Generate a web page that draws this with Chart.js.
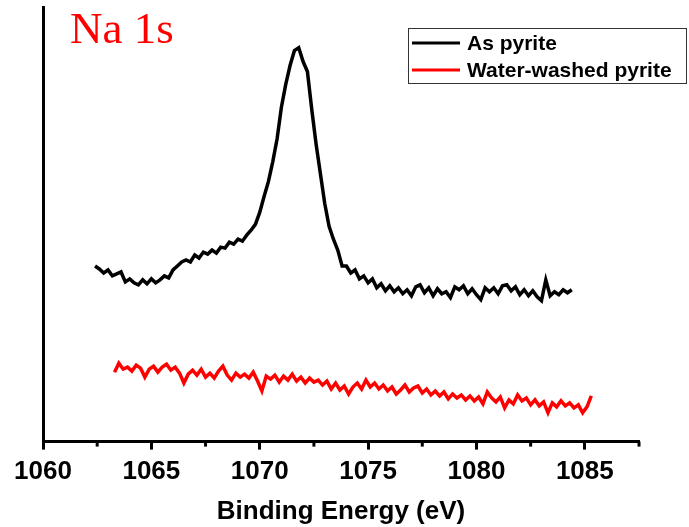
<!DOCTYPE html>
<html>
<head>
<meta charset="utf-8">
<script src="https://cdn.jsdelivr.net/npm/chart.js@4.4.1/dist/chart.umd.min.js"></script>
<style>
  html, body { margin: 0; padding: 0; background: #fff; }
  #wrap { position: relative; width: 689px; height: 527px; }
</style>
</head>
<body>
<div id="wrap"><canvas id="xps" width="689" height="527"></canvas></div>
<script>
// Na 1s spectra, intensity in arbitrary units, sampled every 0.2 eV
const stepEV = 0.2;
const asPyriteStart = 1062.4;
const asPyrite = [
  177, 174, 170,
  173, 167, 169, 171, 161,
  164, 160, 158, 163, 159,
  164, 160, 163, 167, 165,
  173, 177, 181, 183, 181,
  188, 185, 191, 189, 193,
  190, 196, 195, 201, 199,
  204, 202, 208, 213, 219,
  231, 247, 262, 282, 305,
  337, 360, 379, 394, 397,
  383, 373, 335, 300, 270,
  240, 217, 204, 193, 177,
  177, 170, 173, 164, 167,
  160, 164, 155, 159, 152,
  157, 151, 155, 149, 153,
  147, 156, 158, 150, 155,
  147, 154, 149, 151, 145,
  156, 153, 157, 149, 154,
  148, 143, 155, 151, 155,
  149, 157, 158, 152, 156,
  148, 153, 147, 152, 146,
  142, 163, 147, 151, 148,
  153, 150, 153
];
const washedStart = 1063.3;
const washedPyrite = [
  70, 79, 73, 75,
  71, 77, 74, 65, 73,
  76, 70, 75, 78, 72,
  75, 69, 59, 68, 72,
  67, 73, 65, 69, 64,
  71, 76, 67, 62, 69,
  65, 68, 64, 70, 61,
  51, 66, 63, 67, 60,
  66, 62, 68, 61, 65,
  59, 64, 60, 62, 57,
  61, 53, 59, 52, 56,
  48, 55, 59, 53, 62,
  55, 59, 53, 57, 51,
  55, 48, 52, 57, 50,
  54, 56, 49, 53, 47,
  51, 46, 50, 43, 48,
  44, 47, 42, 46, 41,
  45, 38, 50, 44, 40,
  45, 34, 42, 38, 47,
  41, 44, 37, 42, 36,
  40, 29, 39, 35, 41,
  36, 39, 34, 37, 29,
  35, 46
];
const majorTicks = [1060, 1065, 1070, 1075, 1080, 1085];
const minorTicks = [1062.5, 1067.5, 1072.5, 1077.5, 1082.5, 1087.5];
const seriesNames = ["As pyrite", "Water-washed pyrite"];
const panelLabel = "Na 1s";

function toPoints(start, values) {
  return values.map((v, i) => ({ x: +(start + i * stepEV).toFixed(2), y: v }));
}

// short minor ticks, panel label and boxed legend
const extras = {
  id: "extras",
  afterDraw(chart) {
    const ctx = chart.ctx;
    const xs = chart.scales.x;
    ctx.save();
    ctx.strokeStyle = "#000";
    ctx.lineWidth = 3;
    minorTicks.forEach(v => {
      const px = xs.getPixelForValue(v);
      ctx.beginPath();
      ctx.moveTo(px, xs.top);
      ctx.lineTo(px, xs.top + 5);
      ctx.stroke();
    });

    ctx.fillStyle = "#ff0000";
    ctx.font = '45px "Liberation Serif", serif';
    ctx.textBaseline = "alphabetic";
    ctx.fillText(panelLabel, 70, 43);

    // legend box
    ctx.lineWidth = 1;
    ctx.strokeStyle = "#333";
    ctx.strokeRect(408.5, 28.5, 278, 55);
    ctx.font = 'bold 21px "Liberation Sans", Arial, sans-serif';
    ctx.textBaseline = "middle";
    chart.data.datasets.forEach((ds, i) => {
      const y = 43 + i * 27;
      ctx.strokeStyle = ds.borderColor;
      ctx.lineWidth = 3;
      ctx.beginPath();
      ctx.moveTo(412, y);
      ctx.lineTo(460, y);
      ctx.stroke();
      ctx.fillStyle = "#000";
      ctx.fillText(ds.label, 467, y + 1);
    });
    ctx.restore();
  }
};

new Chart(document.getElementById("xps"), {
  type: "line",
  data: {
    datasets: [
      {
        label: seriesNames[0],
        data: toPoints(asPyriteStart, asPyrite),
        borderColor: "#000000",
        borderWidth: 3.5,
        pointRadius: 0,
        tension: 0
      },
      {
        label: seriesNames[1],
        data: toPoints(washedStart, washedPyrite),
        borderColor: "#ff0000",
        borderWidth: 3.5,
        pointRadius: 0,
        tension: 0
      }
    ]
  },
  options: {
    responsive: false,
    animation: false,
    devicePixelRatio: 1,
    layout: { padding: { left: 35, right: 50, top: 7, bottom: 0 } },
    plugins: { legend: { display: false }, tooltip: { enabled: false } },
    scales: {
      x: {
        type: "linear",
        min: 1060,
        max: 1087.5,
        afterBuildTicks(scale) {
          scale.ticks = majorTicks.concat(minorTicks).sort((a, b) => a - b).map(v => ({ value: v }));
        },
        ticks: {
          autoSkip: false,
          maxRotation: 0,
          padding: 7,
          color: "#000",
          font: { family: '"Liberation Sans", Arial, sans-serif', size: 26, weight: "bold" },
          callback: v => (majorTicks.includes(v) ? String(v) : "")
        },
        grid: {
          drawOnChartArea: false,
          drawTicks: true,
          tickLength: 8,
          tickWidth: 3,
          tickColor: c => (c.tick && majorTicks.includes(c.tick.value) ? "#000" : "rgba(0,0,0,0)")
        },
        border: { display: true, color: "#000", width: 3 },
        title: {
          display: true,
          text: "Binding Energy (eV)",
          color: "#000",
          font: { family: '"Liberation Sans", Arial, sans-serif', size: 26, weight: "bold" },
          padding: { top: 1, bottom: 0 }
        }
      },
      y: {
        min: 0,
        max: 438,
        ticks: { display: false },
        grid: { display: false },
        border: { display: true, color: "#000", width: 3 }
      }
    }
  },
  plugins: [extras]
});
</script>
</body>
</html>
